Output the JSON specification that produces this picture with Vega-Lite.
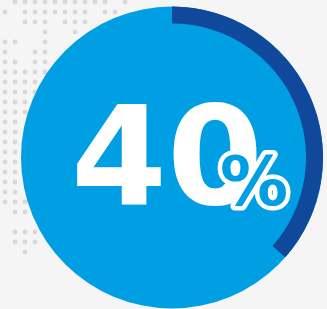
{
  "$schema": "https://vega.github.io/schema/vega-lite/v6.json",
  "width": 310,
  "height": 303,
  "autosize": {"type": "none"},
  "padding": {"left": 17, "top": 6, "right": 0, "bottom": 0},
  "background": "#f5f5f5",
  "config": {"view": {"stroke": null}},
  "datasets": {
    "ring": [
      {"part": "filled", "idx": 1, "value": 36.5, "label": "40", "pct": "%"},
      {"part": "rest", "idx": 2, "value": 63.5, "label": "40", "pct": "%"}
    ],
    "dots": [
      {"c": 1, "r": 0}, {"c": 2, "r": 0}, {"c": 3, "r": 0}, {"c": 4, "r": 0}, {"c": 5, "r": 0}, {"c": 6, "r": 0}, {"c": 7, "r": 0}, {"c": 8, "r": 0}, {"c": 9, "r": 0}, {"c": 10, "r": 0}, {"c": 12, "r": 0},
      {"c": 0, "r": 1}, {"c": 2, "r": 1}, {"c": 3, "r": 1}, {"c": 4, "r": 1}, {"c": 5, "r": 1}, {"c": 6, "r": 1}, {"c": 7, "r": 1}, {"c": 8, "r": 1}, {"c": 10, "r": 1}, {"c": 11, "r": 1},
      {"c": 2, "r": 2}, {"c": 3, "r": 2}, {"c": 4, "r": 2}, {"c": 6, "r": 2}, {"c": 7, "r": 2}, {"c": 8, "r": 2},
      {"c": 4, "r": 3}, {"c": 7, "r": 3},
      {"c": 0, "r": 4}, {"c": 1, "r": 4}, {"c": 4, "r": 4},
      {"c": 0, "r": 5}, {"c": 3, "r": 5}, {"c": 4, "r": 5},
      {"c": 0, "r": 6}, {"c": 1, "r": 6}, {"c": 3, "r": 6}, {"c": 4, "r": 6},
      {"c": 0, "r": 7}, {"c": 1, "r": 7}, {"c": 2, "r": 7}, {"c": 3, "r": 7}, {"c": 4, "r": 7},
      {"c": 0, "r": 8}, {"c": 1, "r": 8}, {"c": 2, "r": 8}, {"c": 3, "r": 8},
      {"c": 0, "r": 9}, {"c": 1, "r": 9}, {"c": 2, "r": 9}, {"c": 3, "r": 9},
      {"c": 0, "r": 10}, {"c": 1, "r": 10}, {"c": 2, "r": 10},
      {"c": 0, "r": 11}, {"c": 1, "r": 11}, {"c": 2, "r": 11},
      {"c": 0, "r": 12}, {"c": 1, "r": 12},
      {"c": 0, "r": 13}, {"c": 1, "r": 13},
      {"c": 0, "r": 14}, {"c": 1, "r": 14},
      {"c": 0, "r": 15}, {"c": 1, "r": 15},
      {"c": 0, "r": 16}, {"c": 1, "r": 16},
      {"c": 0, "r": 17}, {"c": 1, "r": 17},
      {"c": 0, "r": 18}, {"c": 1, "r": 18},
      {"c": 0, "r": 19}, {"c": 1, "r": 19},
      {"c": 0, "r": 20}, {"c": 1, "r": 20}, {"c": 2, "r": 20},
      {"c": 1, "r": 21}, {"c": 2, "r": 21},
      {"c": 1, "r": 23}, {"c": 2, "r": 23}, {"c": 3, "r": 23},
      {"c": 1, "r": 24}, {"c": 2, "r": 24}, {"c": 3, "r": 24},
      {"c": 2, "r": 25}
    ]
  },
  "layer": [
    {
      "data": {"name": "dots"},
      "mark": {"type": "point", "filled": true, "size": 24, "color": "#d8d8d8", "opacity": 1, "clip": false},
      "encoding": {
        "x": {"field": "c", "type": "quantitative", "scale": {"domain": [1.2, 32.2], "nice": false, "zero": false}, "axis": null},
        "y": {"field": "r", "type": "quantitative", "scale": {"domain": [0.4, 30.7], "nice": false, "zero": false, "reverse": true}, "axis": null}
      }
    },
    {
      "data": {"name": "ring"},
      "transform": [{"filter": "datum.idx == 1"}],
      "mark": {"type": "arc", "radius": 151, "color": "#009FE3"},
      "encoding": {}
    },
    {
      "data": {"name": "ring"},
      "mark": {"type": "arc", "radius": 151, "radius2": 134},
      "encoding": {
        "theta": {"field": "value", "type": "quantitative", "stack": true},
        "order": {"field": "idx"},
        "color": {"field": "part", "type": "nominal", "scale": {"domain": ["filled", "rest"], "range": ["#10489B", "rgba(0,0,0,0)"]}, "legend": null}
      }
    },
    {
      "data": {"name": "ring"},
      "transform": [{"filter": "datum.idx == 1"}],
      "mark": {"type": "text", "font": "DejaVu Sans", "fontWeight": "bold", "fontSize": 138, "color": "#ffffff", "align": "center", "baseline": "alphabetic", "dx": -5, "dy": 46, "limit": 0},
      "encoding": {"text": {"field": "label"}}
    },
    {
      "data": {"name": "ring"},
      "transform": [{"filter": "datum.idx == 1"}],
      "mark": {"type": "text", "font": "DejaVu Sans", "fontWeight": "bold", "fontSize": 68, "color": "#ffffff", "stroke": "#ffffff", "strokeWidth": 9, "strokeJoin": "round", "align": "center", "baseline": "alphabetic", "dx": 82, "dy": 47},
      "encoding": {"text": {"field": "pct"}}
    },
    {
      "data": {"name": "ring"},
      "transform": [{"filter": "datum.idx == 1"}],
      "mark": {"type": "text", "font": "DejaVu Sans", "fontWeight": "bold", "fontSize": 68, "color": "#009FE3", "align": "center", "baseline": "alphabetic", "dx": 82, "dy": 47},
      "encoding": {"text": {"field": "pct"}}
    }
  ]
}
